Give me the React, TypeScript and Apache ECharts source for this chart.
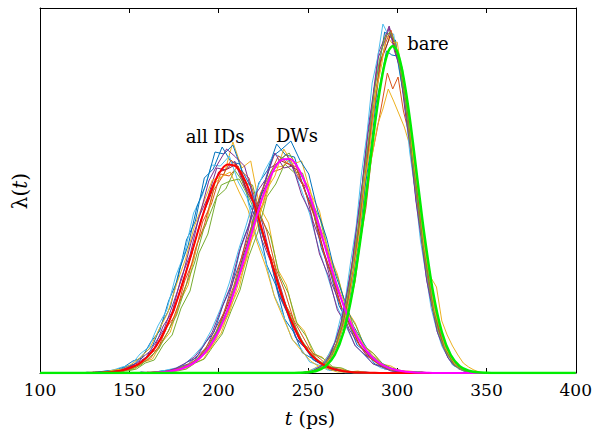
import React, { useEffect, useRef } from "react";
import * as echarts from "echarts";

// ---------- data (λ(t) in arbitrary units, t in ps) ----------
const xTicks = [100, 150, 200, 250, 300, 350, 400];

// fitted curves, sampled from t = 100 ps every 5 ps
const fitIDs = [0, 0, 0, 0, 0, 0, 0.2, 0.5, 1.1, 2.3, 4.7, 8.9, 15.9, 26.9, 42.8, 64.2, 90.6, 120.6, 151, 178.6, 198.8, 208.4, 206, 191.8, 168.3, 139, 108.4, 79.6, 55, 35.8, 22, 12.7, 6.9, 3.6, 1.7, 0.8, 0.4, 0.2, 0.1, 0, 0, 0, 0, 0, 0, 0, 0, 0, 0, 0, 0, 0, 0, 0, 0, 0, 0, 0, 0, 0, 0];
const fitDWs = [0, 0, 0, 0, 0, 0, 0, 0, 0, 0, 0, 0, 0.2, 0.5, 1.1, 2.4, 4.8, 8.9, 15.8, 26.4, 41.8, 62.5, 88.4, 118, 149, 177.5, 200, 212.8, 214, 203.4, 182.6, 155, 124, 94, 67.3, 45.6, 29.1, 17.6, 10, 5.4, 2.8, 1.3, 0.6, 0.3, 0.1, 0, 0, 0, 0, 0, 0, 0, 0, 0, 0, 0, 0, 0, 0, 0, 0];
const fitStart = 100;
const fitStep = 5;

// bare fit with its own time samples
const fitBareT = [100, 240, 245, 250, 255, 260, 265, 270, 275, 280, 282.5, 285, 287.5, 290, 292.5, 295, 297.5, 300, 302.5, 305, 307.5, 310, 312.5, 315, 320, 325, 330, 335, 340, 345, 350, 355, 360, 400];
const fitBareV = [0, 0, 0.2, 0.7, 2.3, 6.9, 18, 41, 81.5, 141, 176.4, 213, 248.6, 280, 305.3, 321.5, 327, 321.5, 305.3, 280, 248.6, 213, 176.4, 141, 81.5, 41, 18, 6.9, 2.3, 0.7, 0.2, 0, 0, 0];

// individual measured traces: "all IDs" (every 5 ps from its start time)
const idsStarts = [127, 131, 133, 129, 134, 126, 130, 128, 132, 126.5, 129.5, 131.5];
const ids1 = [0, 1, 2, 3, 6, 12, 15, 31, 42, 72, 93, 133, 152, 195, 204, 226, 211, 209, 170, 151, 108, 88, 54, 41, 20, 15, 9, 3, 3, 1, 0, 1, 0];
const ids2 = [1, 0, 2, 1, 7, 8, 19, 24, 46, 58, 92, 113, 151, 169, 199, 197, 207, 180, 168, 129, 110, 73, 57, 31, 24, 11, 8, 3, 2, 0, 1, 0, 0];
const ids3 = [0, 1, 0, 3, 4, 11, 14, 30, 41, 70, 88, 130, 149, 190, 198, 231, 205, 212, 166, 150, 104, 88, 52, 42, 19, 16, 6, 5, 1, 2, 0, 0, 0];
const ids4 = [0, 1, 1, 3, 5, 10, 18, 25, 47, 61, 95, 118, 156, 176, 205, 203, 212, 188, 171, 134, 112, 77, 58, 33, 24, 12, 8, 3, 2, 1, 1, 0, 0];
const ids5 = [0, 0, 2, 2, 4, 10, 13, 28, 38, 65, 82, 120, 139, 176, 184, 203, 190, 188, 154, 137, 98, 80, 49, 37, 19, 14, 6, 5, 1, 1, 0, 0, 0];
const ids6 = [1, 0, 1, 3, 6, 8, 19, 26, 47, 63, 97, 120, 160, 178, 208, 207, 217, 191, 175, 137, 114, 78, 59, 34, 25, 11, 8, 3, 3, 0, 0, 0, 0];
const ids7 = [0, 0, 1, 2, 6, 8, 17, 26, 44, 62, 92, 119, 153, 175, 201, 204, 209, 187, 170, 135, 110, 77, 56, 34, 23, 12, 8, 3, 2, 1, 0, 0, 0];
const ids8 = [0, 1, 2, 2, 6, 9, 19, 27, 49, 66, 103, 128, 167, 189, 221, 219, 228, 203, 186, 146, 121, 83, 62, 36, 26, 13, 9, 3, 2, 1, 0, 0, 0];
const ids9 = [0, 1, 1, 2, 5, 10, 15, 28, 42, 66, 89, 124, 148, 182, 196, 213, 203, 195, 165, 142, 105, 82, 53, 37, 21, 14, 6, 4, 2, 1, 0, 0, 0];
const ids10 = [0, 0, 1, 3, 4, 9, 16, 25, 43, 60, 89, 114, 147, 170, 193, 196, 201, 181, 163, 131, 106, 75, 54, 33, 22, 12, 6, 4, 1, 1, 0, 0, 0];
const ids11 = [1, 0, 1, 2, 6, 10, 16, 30, 44, 69, 95, 130, 158, 192, 209, 224, 216, 207, 176, 150, 112, 87, 57, 40, 22, 15, 7, 5, 2, 1, 0, 0, 0];
const ids12 = [0, 0, 1, 2, 4, 8, 16, 24, 41, 58, 86, 110, 143, 165, 188, 192, 194, 177, 158, 128, 102, 73, 52, 33, 20, 12, 7, 3, 2, 1, 0, 0, 0];
const idsStep = 5;

// "DWs" traces (every 5 ps)
const dwsStarts = [157.5, 160, 161.5, 158, 162, 156, 159, 160.5, 158.5, 161, 156.5, 159.5];
const dws1 = [0, 0, 2, 3, 5, 11, 15, 30, 41, 68, 88, 127, 151, 190, 203, 229, 218, 216, 186, 166, 125, 101, 67, 51, 28, 21, 9, 6, 2, 2, 0, 1, 0, 0, 0];
const dws2 = [1, 0, 1, 2, 6, 8, 18, 24, 44, 58, 90, 112, 150, 170, 201, 204, 214, 195, 183, 147, 126, 89, 69, 42, 30, 16, 11, 4, 3, 1, 0, 0, 0, 0, 0];
const dws3 = [0, 1, 0, 3, 4, 10, 14, 28, 40, 66, 85, 124, 146, 182, 197, 224, 209, 212, 180, 162, 121, 99, 64, 50, 27, 20, 9, 7, 2, 2, 1, 0, 0, 0, 0];
const dws4 = [0, 0, 1, 2, 6, 9, 17, 25, 44, 60, 91, 116, 153, 174, 204, 210, 219, 199, 186, 151, 127, 91, 69, 44, 30, 17, 11, 4, 3, 1, 0, 0, 0, 0, 0];
const dws5 = [0, 1, 1, 2, 4, 10, 14, 27, 39, 62, 83, 117, 141, 176, 189, 209, 201, 200, 172, 153, 116, 94, 62, 47, 26, 19, 9, 5, 2, 1, 1, 0, 0, 0, 0];
const dws6 = [1, 0, 1, 3, 5, 9, 17, 27, 43, 64, 90, 122, 151, 182, 203, 219, 215, 209, 185, 159, 125, 97, 68, 48, 29, 19, 10, 5, 3, 1, 1, 0, 0, 0, 0];
const dws7 = [0, 1, 1, 2, 5, 8, 16, 26, 42, 63, 86, 119, 146, 178, 197, 213, 209, 203, 179, 156, 121, 95, 65, 47, 28, 18, 10, 5, 3, 1, 0, 1, 0, 0, 0];
const dws8 = [0, 1, 1, 2, 6, 10, 17, 28, 46, 65, 96, 124, 162, 187, 217, 224, 232, 213, 199, 162, 135, 98, 73, 47, 32, 18, 11, 5, 3, 1, 1, 0, 0, 0, 0];
const dws9 = [0, 1, 1, 3, 5, 9, 15, 27, 41, 63, 87, 120, 147, 180, 198, 217, 210, 206, 181, 157, 122, 96, 66, 47, 29, 17, 10, 5, 2, 1, 1, 0, 0, 0, 0];
const dws10 = [0, 0, 1, 2, 5, 9, 17, 25, 43, 60, 89, 115, 152, 172, 205, 207, 216, 198, 185, 150, 126, 90, 68, 44, 29, 18, 10, 4, 3, 1, 0, 0, 0, 0, 0];
const dws11 = [1, 0, 1, 2, 5, 10, 16, 27, 41, 64, 86, 121, 145, 181, 194, 220, 205, 207, 178, 160, 119, 97, 63, 48, 27, 19, 9, 6, 2, 1, 1, 0, 0, 0, 0];
const dws12 = [0, 1, 1, 2, 6, 9, 16, 27, 44, 61, 90, 117, 151, 176, 202, 214, 220, 204, 187, 154, 128, 93, 70, 45, 30, 18, 10, 5, 3, 1, 0, 0, 0, 0, 0];
const dwsStep = 5;

// "bare" traces (every 3 ps)
const bareStarts = [248, 249.5, 250, 247.5, 249, 247, 248.5, 249, 248.5, 249, 247.5, 248];
const bare1 = [1, 0, 3, 7, 9, 20, 29, 52, 73, 111, 143, 196, 231, 284, 309, 341, 336, 333, 298, 270, 217, 180, 130, 99, 63, 45, 26, 17, 7, 5, 2, 1, 0, 0];
const bare2 = [0, 1, 3, 5, 10, 16, 29, 42, 68, 92, 134, 165, 214, 241, 270, 300, 284, 296, 262, 240, 190, 160, 114, 88, 55, 40, 22, 15, 7, 4, 2, 1, 0, 0];
const bare3 = [2, 4, 7, 12, 19, 30, 44, 68, 104, 130, 156, 188, 218, 248, 264, 284, 272, 259, 246, 228, 190, 150, 112, 95, 86, 52, 38, 27, 18, 10, 6, 3, 1, 0];
const bare4 = [0, 1, 3, 6, 12, 18, 33, 49, 78, 106, 151, 190, 242, 278, 320, 333, 347, 328, 310, 264, 228, 174, 138, 94, 68, 41, 28, 15, 9, 4, 2, 1, 0, 0];
const bare5 = [1, 1, 2, 6, 11, 18, 32, 47, 76, 103, 149, 186, 238, 271, 315, 327, 340, 321, 304, 259, 224, 170, 135, 92, 67, 40, 28, 14, 8, 5, 1, 1, 0, 0];
const bare6 = [0, 1, 4, 6, 10, 20, 31, 53, 74, 112, 146, 199, 238, 290, 315, 349, 338, 339, 304, 275, 221, 183, 133, 100, 65, 44, 27, 17, 8, 5, 2, 1, 0, 0];
const bare7 = [1, 1, 3, 5, 11, 17, 32, 48, 75, 102, 147, 185, 236, 270, 311, 324, 340, 318, 301, 256, 221, 169, 133, 91, 66, 41, 27, 16, 7, 5, 2, 0, 0, 0];
const bare8 = [0, 1, 3, 6, 9, 19, 29, 50, 70, 104, 137, 186, 221, 268, 294, 322, 318, 317, 284, 257, 207, 170, 124, 93, 60, 42, 25, 15, 8, 4, 2, 1, 0, 0];
const bare9 = [1, 1, 3, 6, 10, 19, 30, 49, 75, 104, 146, 190, 232, 277, 308, 330, 343, 324, 302, 262, 220, 175, 131, 96, 64, 43, 26, 16, 8, 5, 2, 1, 0, 0];
const bare10 = [0, 1, 2, 6, 11, 18, 31, 48, 72, 107, 141, 193, 229, 281, 305, 338, 330, 331, 296, 267, 214, 178, 128, 97, 62, 44, 25, 16, 7, 4, 2, 1, 0, 0];
const bare11 = [1, 0, 3, 6, 10, 19, 32, 50, 76, 105, 148, 189, 237, 274, 316, 329, 345, 322, 305, 261, 223, 172, 134, 93, 66, 41, 27, 15, 8, 5, 2, 1, 0, 0];
const bare12 = [0, 1, 3, 5, 10, 18, 30, 49, 73, 106, 144, 192, 233, 279, 312, 336, 341, 330, 300, 266, 219, 177, 131, 97, 64, 42, 26, 16, 8, 4, 2, 1, 0, 0];
const bareStep = 3;

const labels = ["all IDs", "DWs", "bare"];

// ---------- styles ----------
const palette = ["#0072BD", "#D95319", "#EDB120", "#7E2F8E", "#77AC30", "#4DBEEE", "#A2142F"];
const SERIF = "DejaVu Serif";

function toPairs(start: number, step: number, vals: number[]) {
  return vals.map((v, i) => [start + i * step, v]);
}

export default function App() {
  const ref = useRef<HTMLDivElement>(null);
  useEffect(() => {
    if (!ref.current) return;
    const chart = echarts.init(ref.current, undefined, { renderer: "svg" });

    const groups: [number[], number, number[][]][] = [
      [idsStarts, idsStep, [ids1, ids2, ids3, ids4, ids5, ids6, ids7, ids8, ids9, ids10, ids11, ids12]],
      [dwsStarts, dwsStep, [dws1, dws2, dws3, dws4, dws5, dws6, dws7, dws8, dws9, dws10, dws11, dws12]],
      [bareStarts, bareStep, [bare1, bare2, bare3, bare4, bare5, bare6, bare7, bare8, bare9, bare10, bare11, bare12]],
    ];
    const series: any[] = [];
    groups.forEach(([starts, step, traces]) => {
      traces.forEach((vals, k) => {
        const c = palette[k % palette.length];
        series.push({
          type: "line",
          data: toPairs(starts[k], step, vals),
          showSymbol: false,
          symbol: "none",
          silent: true,
          itemStyle: { color: c },
          lineStyle: { color: c, width: 1, join: "round" },
          z: 2,
        });
      });
    });
    series.push({
      type: "line", data: toPairs(fitStart, fitStep, fitIDs), showSymbol: false, symbol: "none",
      smooth: 0.3, silent: true, itemStyle: { color: "#FF0000" }, lineStyle: { color: "#FF0000", width: 2 }, z: 3,
    });
    series.push({
      type: "line", data: toPairs(fitStart, fitStep, fitDWs), showSymbol: false, symbol: "none",
      smooth: 0.3, silent: true, itemStyle: { color: "#FF00FF" }, lineStyle: { color: "#FF00FF", width: 2 }, z: 3,
    });
    series.push({
      type: "line", data: fitBareT.map((t, i) => [t, fitBareV[i]]), showSymbol: false, symbol: "none",
      smooth: 0.3, silent: true, itemStyle: { color: "#00EE00" }, lineStyle: { color: "#00EE00", width: 2.5 }, z: 4,
    });

    const axisLine = { show: true, onZero: false, lineStyle: { color: "#000", width: 1 } };
    const txt = (text: string, x: number, y: number, size: number, extra: any = {}) => ({
      type: "text", x, y, silent: true, ...extra,
      style: {
        text, fill: "#000", fontFamily: SERIF, fontSize: size, align: "center", verticalAlign: "middle",
        rich: { i: { fontStyle: "italic", fontFamily: SERIF, fontSize: size, fill: "#000" } },
      },
    });
    const option: any = {
      animation: false,
      backgroundColor: "#ffffff",
      textStyle: { fontFamily: SERIF },
      grid: { left: 40, right: 15, top: 8, bottom: 60, containLabel: false },
      xAxis: [
        {
          type: "value", min: xTicks[0], max: xTicks[xTicks.length - 1], interval: 50, position: "bottom",
          axisLine, axisTick: { show: true, inside: true, length: 5, lineStyle: { color: "#000" } },
          axisLabel: { show: true, margin: 8, color: "#000", fontFamily: SERIF, fontSize: 17, showMinLabel: true, showMaxLabel: true },
          splitLine: { show: false },
        },
        {
          type: "value", min: xTicks[0], max: xTicks[xTicks.length - 1], interval: 50, position: "top",
          axisLine, axisTick: { show: true, inside: true, length: 5, lineStyle: { color: "#000" } },
          axisLabel: { show: false }, splitLine: { show: false },
        },
      ],
      yAxis: [
        { type: "value", min: 0, max: 365, position: "left", axisLine, axisTick: { show: false }, axisLabel: { show: false }, splitLine: { show: false } },
        { type: "value", min: 0, max: 365, position: "right", axisLine, axisTick: { show: false }, axisLabel: { show: false }, splitLine: { show: false } },
      ],
      graphic: [
        txt(labels[0], 215, 136, 18),
        txt(labels[1], 297, 135, 18),
        txt(labels[2], 428, 43, 18),
        txt("{i|t} (ps)", 310, 418, 19),
        txt("λ({i|t})", 20, 191, 20, { rotation: Math.PI / 2 }),
      ],
      series,
    };
    chart.setOption(option);
    return () => chart.dispose();
  }, []);

  return <div ref={ref} style={{ width: 595, height: 433, position: "absolute", left: 0, top: 0, background: "#fff" }} />;
}
